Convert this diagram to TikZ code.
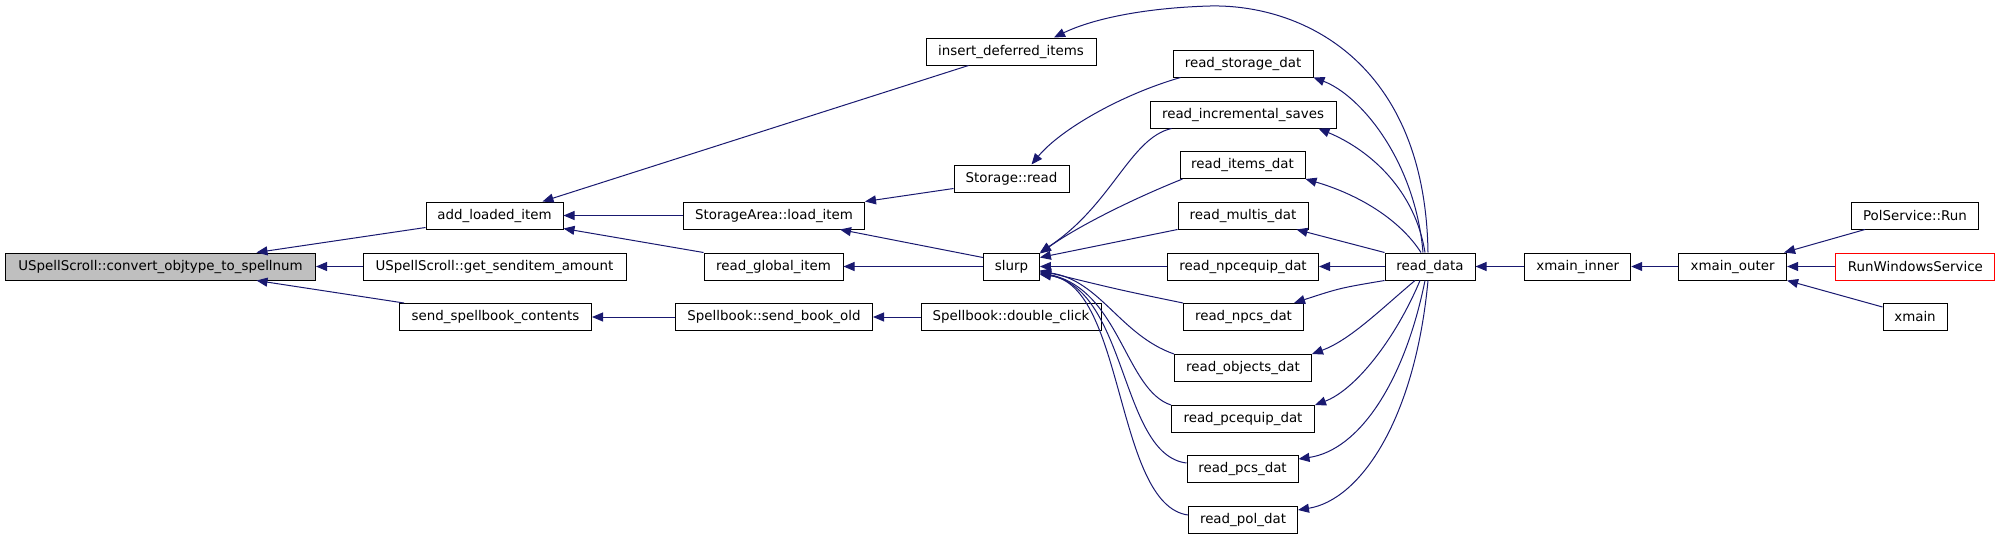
\documentclass[tikz,border=0pt]{standalone}
\usepackage{fontspec}
\setmainfont{DejaVu Sans}
\usetikzlibrary{calc,arrows.meta}
\definecolor{edgecol}{RGB}{25,25,112}
\definecolor{boxgray}{RGB}{191,191,191}
\definecolor{boxred}{RGB}{255,0,0}
\begin{document}
\begin{tikzpicture}[x=1pt,y=-1pt,
  fn/.style={draw=black,line width=1pt,inner sep=0pt,minimum height=27pt,fill=white,
    font=\fontsize{13.4}{15}\selectfont},
  edge/.style={draw=edgecol,line width=1pt,-{Triangle[length=11pt,width=9pt]},color=edgecol}]
\useasboundingbox (0,0) rectangle (1997,538);
% nodes
\node[fn,fill=boxgray,minimum width=310pt] (us) at (160.5,266.5) {USpellScroll::convert\_objtype\_to\_spellnum};
\node[fn,minimum width=137pt] (add) at (494.5,215.5) {add\_loaded\_item};
\node[fn,minimum width=263pt] (gs) at (494.5,266.5) {USpellScroll::get\_senditem\_amount};
\node[fn,minimum width=192pt] (ssc) at (495.5,317) {send\_spellbook\_contents};
\node[fn,minimum width=170pt] (idi) at (1011,51.5) {insert\_deferred\_items};
\node[fn,minimum width=140pt] (rsd) at (1243,63.5) {read\_storage\_dat};
\node[fn,minimum width=186pt] (ri) at (1243,114.5) {read\_incremental\_saves};
\node[fn,minimum width=115pt] (sr) at (1011.5,178.5) {Storage::read};
\node[fn,minimum width=125pt] (rit) at (1242.5,165) {read\_items\_dat};
\node[fn,minimum width=181pt] (sa) at (774,215.5) {StorageArea::load\_item};
\node[fn,minimum width=130pt] (rm) at (1243,215.5) {read\_multis\_dat};
\node[fn,minimum width=139pt] (rgi) at (773.5,266.5) {read\_global\_item};
\node[fn,minimum width=56pt] (sl) at (1011.4,266.5) {slurp};
\node[fn,minimum width=151pt] (rne) at (1243,266.5) {read\_npcequip\_dat};
\node[fn,minimum width=197pt] (sbo) at (774,317) {Spellbook::send\_book\_old};
\node[fn,minimum width=180pt] (dc) at (1011,317) {Spellbook::double\_click};
\node[fn,minimum width=120pt] (rnp) at (1243.5,317) {read\_npcs\_dat};
\node[fn,minimum width=137pt] (rob) at (1243,368) {read\_objects\_dat};
\node[fn,minimum width=143pt] (rpe) at (1243,419) {read\_pcequip\_dat};
\node[fn,minimum width=111pt] (rpc) at (1242.5,469) {read\_pcs\_dat};
\node[fn,minimum width=109pt] (rpo) at (1243,520) {read\_pol\_dat};
\node[fn,minimum width=90pt] (rd) at (1430,266.5) {read\_data};
\node[fn,minimum width=106pt] (xi) at (1577.7,266.5) {xmain\_inner};
\node[fn,minimum width=108pt] (xo) at (1732.6,266.5) {xmain\_outer};
\node[fn,minimum width=127pt] (psr) at (1915,215.5) {PolService::Run};
\node[fn,draw=boxred,minimum width=159pt] (rws) at (1915.4,266.5) {RunWindowsService};
\node[fn,minimum width=64pt] (xm) at (1915,317) {xmain};
% edges
\draw[edge] ($(add.south west)+(0,-2)$) -- ($(us.north)+(96,0)$);
\draw[edge] (gs) -- (us);
\draw[edge] ($(ssc.north west)+(5,0)$) -- ($(us.south)+(96,0)$);
\draw[edge] ($(idi.south west)+(43,0)$) -- ($(add.north east)+(-21,0)$);
\draw[edge] (sa) -- (add);
\draw[edge] (rgi.north west) -- ($(add.south east)+(0,-1)$);
\draw[edge] ($(sr.south west)+(0,-4)$) -- (sa.north east);
\draw[edge] ($(sl.north west)+(0,5)$) -- ($(sa.south east)+(-25,0)$);
\draw[edge] (sl) -- (rgi);
\draw[edge] (sbo) -- (ssc);
\draw[edge] (dc) -- (sbo);
\draw[edge] ($(rsd.south west)+(8,0)$) .. controls (1120,95) and (1060,130) .. ($(sr.north)+(20,0)$);
\draw[edge] ($(rd.north)+(-2,0)$) .. controls (1425,60) and (1300,4) .. (1210,6) .. controls (1140,8) and (1090,20) .. ($(idi.north)+(43,0)$);
\draw[edge] ($(ri.south west)+(22,0)$) .. controls (1130,138) and (1112,205) .. (sl.north east);
\draw[edge] ($(rit.south west)+(3,0)$) .. controls (1130,200) and (1075,228) .. ($(sl.north east)+(0,1)$);
\draw[edge] (rm.south west) -- ($(sl.east)+(0,-9)$);
\draw[edge] (rne) -- (sl);
\draw[edge] (rnp.north west) .. controls (1120,290) .. ($(sl.east)+(0,4)$);
\draw[edge] (rob.north west) .. controls (1120,335) and (1100,280) .. ($(sl.east)+(0,5)$);
\draw[edge] (rpe.north west) .. controls (1125,390) and (1120,290) .. ($(sl.east)+(0,6)$);
\draw[edge] ($(rpc.west)+(0,-6)$) .. controls (1120,455) and (1128,290) .. ($(sl.east)+(0,7)$);
\draw[edge] ($(rpo.west)+(0,-5)$) .. controls (1115,505) and (1125,285) .. ($(sl.east)+(0,8)$);
\draw[edge] ($(rd.north)+(-7,0)$) .. controls (1415,160) and (1360,95) .. (rsd.south east);
\draw[edge] ($(rd.north)+(-5,0)$) .. controls (1415,190) and (1370,150) .. ($(ri.south east)+(-18,0)$);
\draw[edge] ($(rd.north)+(-9,0)$) .. controls (1400,220) and (1360,195) .. (rit.south east);
\draw[edge] (rd.north west) -- ($(rm.south east)+(-12,0)$);
\draw[edge] (rd) -- (rne);
\draw[edge] (rd.south west) .. controls (1340,288) .. ($(rnp.north east)+(-10,0)$);
\draw[edge] ($(rd.south)+(-15,0)$) .. controls (1380,310) and (1350,340) .. (rob.north east);
\draw[edge] ($(rd.south)+(-10,0)$) .. controls (1395,340) and (1355,390) .. (rpe.north east);
\draw[edge] ($(rd.south)+(-5,0)$) .. controls (1405,380) and (1360,450) .. ($(rpc.east)+(0,-10)$);
\draw[edge] ($(rd.south)+(-2,0)$) .. controls (1415,420) and (1360,500) .. ($(rpo.east)+(0,-10)$);
\draw[edge] (xi) -- (rd);
\draw[edge] (xo) -- (xi);
\draw[edge] ($(psr.south west)+(14,0)$) -- ($(xo.north east)+(-3,0)$);
\draw[edge] (rws) -- (xo);
\draw[edge] ($(xm.north west)+(0,4)$) -- (xo.south east);
\end{tikzpicture}
\end{document}
